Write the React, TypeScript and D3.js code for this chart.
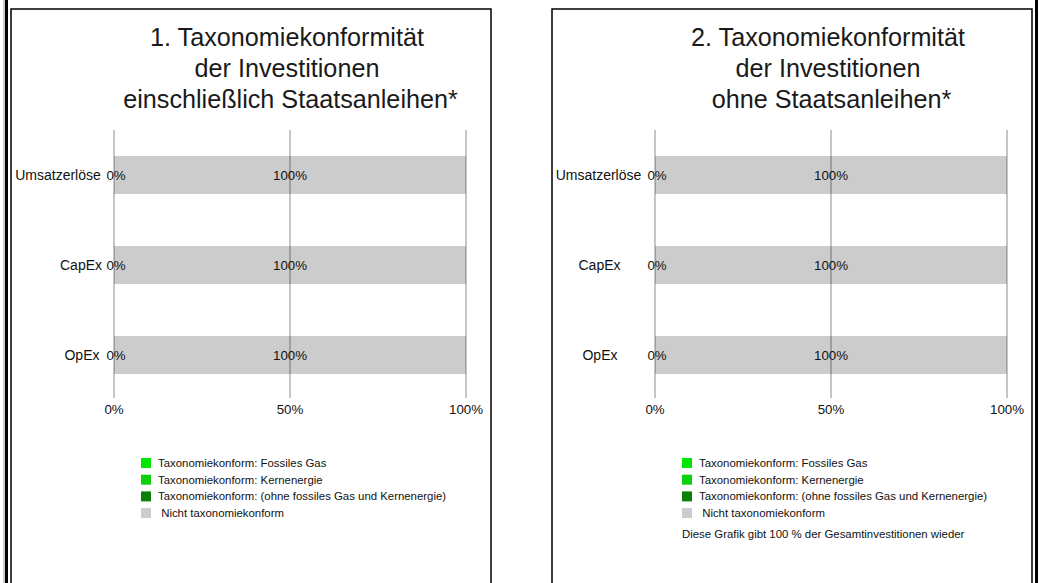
import React, { useEffect, useRef } from 'react';
import * as d3 from 'd3';

const categories = ['Umsatzerlöse', 'CapEx', 'OpEx'];

// panel 1: including sovereign bonds
const fossilGas1 = [0, 0, 0];
const nuclear1 = [0, 0, 0];
const otherAligned1 = [0, 0, 0];
const notAligned1 = [100, 100, 100];

// panel 2: excluding sovereign bonds
const fossilGas2 = [0, 0, 0];
const nuclear2 = [0, 0, 0];
const otherAligned2 = [0, 0, 0];
const notAligned2 = [100, 100, 100];

const xTicks = [0, 50, 100];

const title1 = ['1. Taxonomiekonformität', 'der Investitionen', ' einschließlich Staatsanleihen*'];
const title2 = ['2. Taxonomiekonformität', 'der Investitionen', ' ohne Staatsanleihen*'];

const legendLabels = [
  'Taxonomiekonform: Fossiles Gas',
  'Taxonomiekonform: Kernenergie',
  'Taxonomiekonform: (ohne fossiles Gas und Kernenergie)',
  ' Nicht taxonomiekonform',
];
const legendColors = ['#00e600', '#0dd10d', '#0a800a', '#cccccc'];

const note2 = 'Diese Grafik gibt 100 % der Gesamtinvestitionen wieder';

const W = 1040, H = 583;
const FONT = '"Liberation Sans", Arial, sans-serif';

interface PanelData {
  title: string[];
  fossil: number[];
  nuclear: number[];
  other: number[];
  notAligned: number[];
  labelCenters: number[]; // where each category label is centred (panel coords)
  note?: string;
}

function drawPanel(root: d3.Selection<SVGGElement, unknown, null, undefined>, p: PanelData) {
  // frame (open at the bottom, runs off the page)
  root.append('path')
    .attr('d', `M0,${H + 5}V0H480V${H + 5}`)
    .attr('fill', 'none')
    .attr('stroke', '#000')
    .attr('stroke-width', 1.5);

  // title
  root.append('text')
    .attr('x', 276)
    .attr('y', 37)
    .attr('text-anchor', 'middle')
    .attr('font-size', 25.2)
    .attr('fill', '#1a1a1a')
    .style('white-space', 'pre')
    .selectAll('tspan')
    .data(p.title)
    .join('tspan')
    .attr('x', 276)
    .attr('dy', (_, i) => (i === 0 ? 0 : 31))
    .text(d => d);

  const x = d3.scaleLinear().domain([0, 100]).range([103, 455]);
  const y = d3.scaleBand<string>()
    .domain(categories)
    .range([121, 391])
    .paddingInner(0.578)
    .paddingOuter(0.289);

  // bars
  const rows = categories.map((c, i) => {
    const vals = [p.fossil[i], p.nuclear[i], p.other[i], p.notAligned[i]];
    let acc = 0;
    const segs = vals.map((v, k) => {
      const s = { x0: acc, x1: acc + v, color: legendColors[k] };
      acc += v;
      return s;
    });
    return { c, segs, aligned: p.fossil[i] + p.nuclear[i] + p.other[i], notAligned: p.notAligned[i] };
  });

  const bars = root.append('g');
  rows.forEach(r => {
    bars.selectAll(null)
      .data(r.segs.filter(s => s.x1 > s.x0))
      .join('rect')
      .attr('x', s => x(s.x0))
      .attr('width', s => x(s.x1) - x(s.x0))
      .attr('y', y(r.c)!)
      .attr('height', y.bandwidth())
      .attr('fill', s => s.color);
  });

  // grid lines
  root.append('g')
    .selectAll('line')
    .data(xTicks)
    .join('line')
    .attr('x1', d => x(d))
    .attr('x2', d => x(d))
    .attr('y1', 121)
    .attr('y2', 389)
    .attr('stroke', '#000')
    .attr('stroke-opacity', 0.3)
    .attr('stroke-width', 1.5);

  // tick labels
  root.append('g')
    .selectAll('text')
    .data(xTicks)
    .join('text')
    .attr('x', d => x(d))
    .attr('y', 405)
    .attr('text-anchor', 'middle')
    .attr('font-size', 13.3)
    .attr('fill', '#111')
    .text(d => `${d}%`);

  // value labels
  rows.forEach(r => {
    const cy = y(r.c)! + y.bandwidth() / 2;
    root.append('text')
      .attr('x', x(r.aligned / 2) + 2)
      .attr('y', cy)
      .attr('dy', '0.35em')
      .attr('text-anchor', 'middle')
      .attr('font-size', 13.3)
      .attr('fill', '#111')
      .text(`${r.aligned}%`);
    root.append('text')
      .attr('x', x(r.aligned + r.notAligned / 2))
      .attr('y', cy)
      .attr('dy', '0.35em')
      .attr('text-anchor', 'middle')
      .attr('font-size', 13.3)
      .attr('fill', '#111')
      .text(`${r.notAligned}%`);
  });

  // category labels
  root.append('g')
    .selectAll('text')
    .data(categories)
    .join('text')
    .attr('x', (_, i) => p.labelCenters[i])
    .attr('y', d => y(d)! + y.bandwidth() / 2)
    .attr('dy', '0.35em')
    .attr('text-anchor', 'middle')
    .attr('font-size', 14)
    .attr('fill', '#111')
    .text(d => d);

  // legend
  const lg = root.append('g').attr('transform', 'translate(130,449)');
  const items = lg.selectAll('g')
    .data(legendLabels)
    .join('g')
    .attr('transform', (_, i) => `translate(0,${i * 16.7})`);
  items.append('rect')
    .attr('width', 10)
    .attr('height', 10)
    .attr('fill', (_, i) => legendColors[i]);
  items.append('text')
    .attr('x', 17)
    .attr('y', 9)
    .attr('font-size', 11.4)
    .attr('fill', '#111')
    .style('white-space', 'pre')
    .text(d => d);

  if (p.note) {
    lg.append('text')
      .attr('x', 0)
      .attr('y', 4 * 16.7 + 13)
      .attr('font-size', 11.4)
      .attr('fill', '#111')
      .text(p.note);
  }
}

const App: React.FC = () => {
  const svgRef = useRef<SVGSVGElement>(null);

  useEffect(() => {
    if (!svgRef.current) return;
    const svg = d3.select(svgRef.current);
    svg.selectAll('*').remove();

    svg.append('rect').attr('width', W).attr('height', H).attr('fill', '#fff');

    // outer page edges
    svg.append('line').attr('x1', 4).attr('x2', 4).attr('y1', 0).attr('y2', H)
      .attr('stroke', '#999').attr('stroke-width', 1);
    svg.append('line').attr('x1', 6.5).attr('x2', 6.5).attr('y1', 0).attr('y2', H)
      .attr('stroke', '#000').attr('stroke-width', 3);
    svg.append('line').attr('x1', 1036.5).attr('x2', 1036.5).attr('y1', 0).attr('y2', H)
      .attr('stroke', '#000').attr('stroke-width', 3);

    const g1 = svg.append('g').attr('transform', 'translate(11,9)').attr('font-family', FONT);
    drawPanel(g1, {
      title: title1, fossil: fossilGas1, nuclear: nuclear1, other: otherAligned1, notAligned: notAligned1,
      labelCenters: [47, 70, 71],
    });

    const g2 = svg.append('g').attr('transform', 'translate(552,9)').attr('font-family', FONT);
    drawPanel(g2, {
      title: title2, fossil: fossilGas2, nuclear: nuclear2, other: otherAligned2, notAligned: notAligned2,
      labelCenters: [46.5, 47.5, 48], note: note2,
    });
  }, []);

  return (
    <svg ref={svgRef} width={W} height={H}
         style={{ position: 'absolute', left: 0, top: 0, display: 'block' }} />
  );
};

export default App;
